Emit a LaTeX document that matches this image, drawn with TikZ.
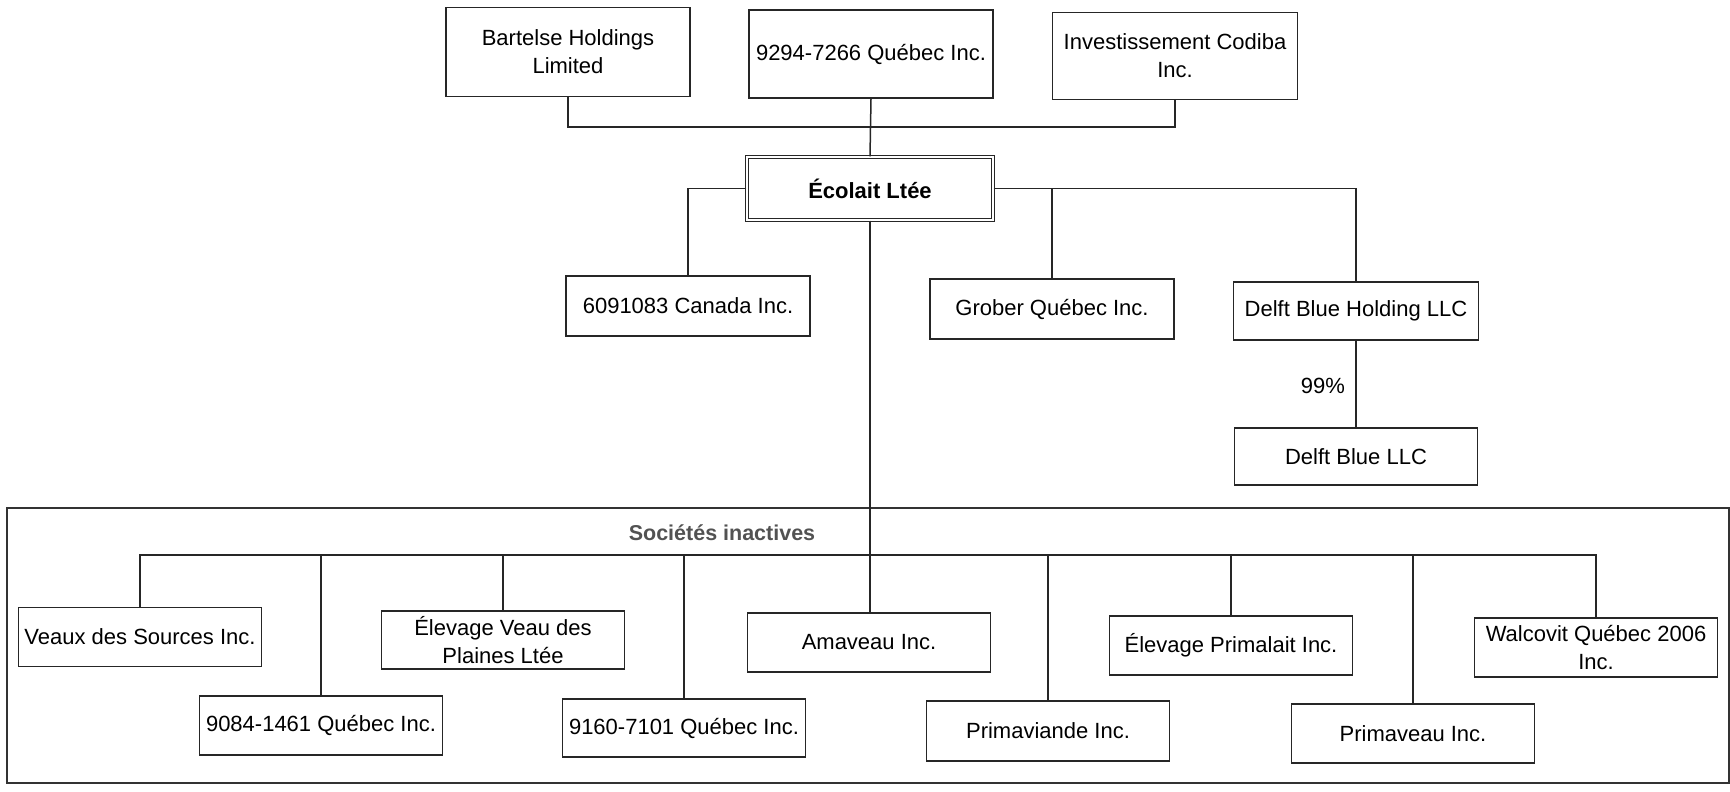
\documentclass[tikz,border=0pt]{standalone}
\usepackage{fontspec}
\setmainfont{Liberation Sans}
\begin{document}
\begin{tikzpicture}[x=1pt,y=-1pt,
  box/.style={draw=black!85, line width=1.7pt, rectangle, align=center, inner sep=0pt,
    minimum width=243pt, minimum height=59pt, font=\fontsize{22}{28}\selectfont},
  mainbox/.style={box, double, double distance=1.3pt, line width=1.3pt,
    font=\fontsize{22}{28}\selectfont\bfseries},
  conn/.style={draw=black!85, line width=1.5pt},
  frame/.style={draw=black!80, line width=1.5pt},
  lbl/.style={font=\fontsize{22}{28}\selectfont, inner sep=0pt}
]
\useasboundingbox (0,0) rectangle (1730,792);

% top shareholders
\node[box, minimum width=244pt, minimum height=89pt] (bart) at (568,52) {Bartelse Holdings\\Limited};
\node[box, minimum width=244pt, minimum height=88pt] (q9294) at (871,54) {9294-7266 Québec Inc.};
\node[box, minimum width=245pt, minimum height=87pt] (codiba) at (1175,56) {Investissement Codiba\\Inc.};
\coordinate (topbus) at (871,127);

% main company
\node[mainbox, minimum width=246pt, minimum height=63pt] (ecolait) at (870,188.5) {Écolait Ltée};

% active subsidiaries
\node[box, minimum width=244pt, minimum height=60pt] (can) at (688,306) {6091083 Canada Inc.};
\node[box, minimum width=244pt, minimum height=60pt] (grober) at (1052,309) {Grober Québec Inc.};
\node[box, minimum width=245pt, minimum height=58pt] (delfth) at (1356,311) {Delft Blue Holding LLC};
\node[box, minimum width=243pt, minimum height=57pt] (delftllc) at (1356,456.5) {Delft Blue LLC};
\node[lbl] (pct) at (1323,386) {99\%};

% inactive companies frame
\draw[frame] (7,508) rectangle (1729,783);
\node[lbl, font=\fontsize{21.5}{26}\selectfont\bfseries, text=black!68] (inact) at (722,533) {Sociétés inactives};
\coordinate (bus) at (0,555);

\node[box] (veaux) at (140,637) {Veaux des Sources Inc.};
\node[box] (q9084) at (321,725.5) {9084-1461 Québec Inc.};
\node[box, minimum height=58pt] (elevv) at (503,640) {Élevage Veau des\\Plaines Ltée};
\node[box, minimum height=58pt] (q9160) at (684,728) {9160-7101 Québec Inc.};
\node[box] (amaveau) at (869,642.5) {Amaveau Inc.};
\node[box, minimum height=60pt] (primav) at (1048,731) {Primaviande Inc.};
\node[box] (primal) at (1231,645.5) {Élevage Primalait Inc.};
\node[box] (primaveau) at (1413,733.5) {Primaveau Inc.};
\node[box] (walc) at (1596,647.5) {Walcovit Québec 2006\\Inc.};

% connectors: top
\draw[conn] (bart.south) |- (topbus) -| (codiba.south);
\draw[conn] (q9294.south) -- (ecolait.north);

% connectors: Ecolait to subsidiaries
\draw[conn] (ecolait.west) -| (can.north);
\draw[conn] (ecolait.east) -| (delfth.north);
\draw[conn] (ecolait.east -| grober.north) -- (grober.north);
\draw[conn] (delfth.south) -- (delftllc.north);
\draw[conn] (ecolait.south) -- (ecolait.south |- amaveau.north);

% connectors: inactive bus
\draw[conn] (veaux.north) |- (walc.north |- bus) -- (walc.north);
\draw[conn] (q9084.north |- bus) -- (q9084.north);
\draw[conn] (elevv.north |- bus) -- (elevv.north);
\draw[conn] (q9160.north |- bus) -- (q9160.north);
\draw[conn] (primav.north |- bus) -- (primav.north);
\draw[conn] (primal.north |- bus) -- (primal.north);
\draw[conn] (primaveau.north |- bus) -- (primaveau.north);
\end{tikzpicture}
\end{document}
